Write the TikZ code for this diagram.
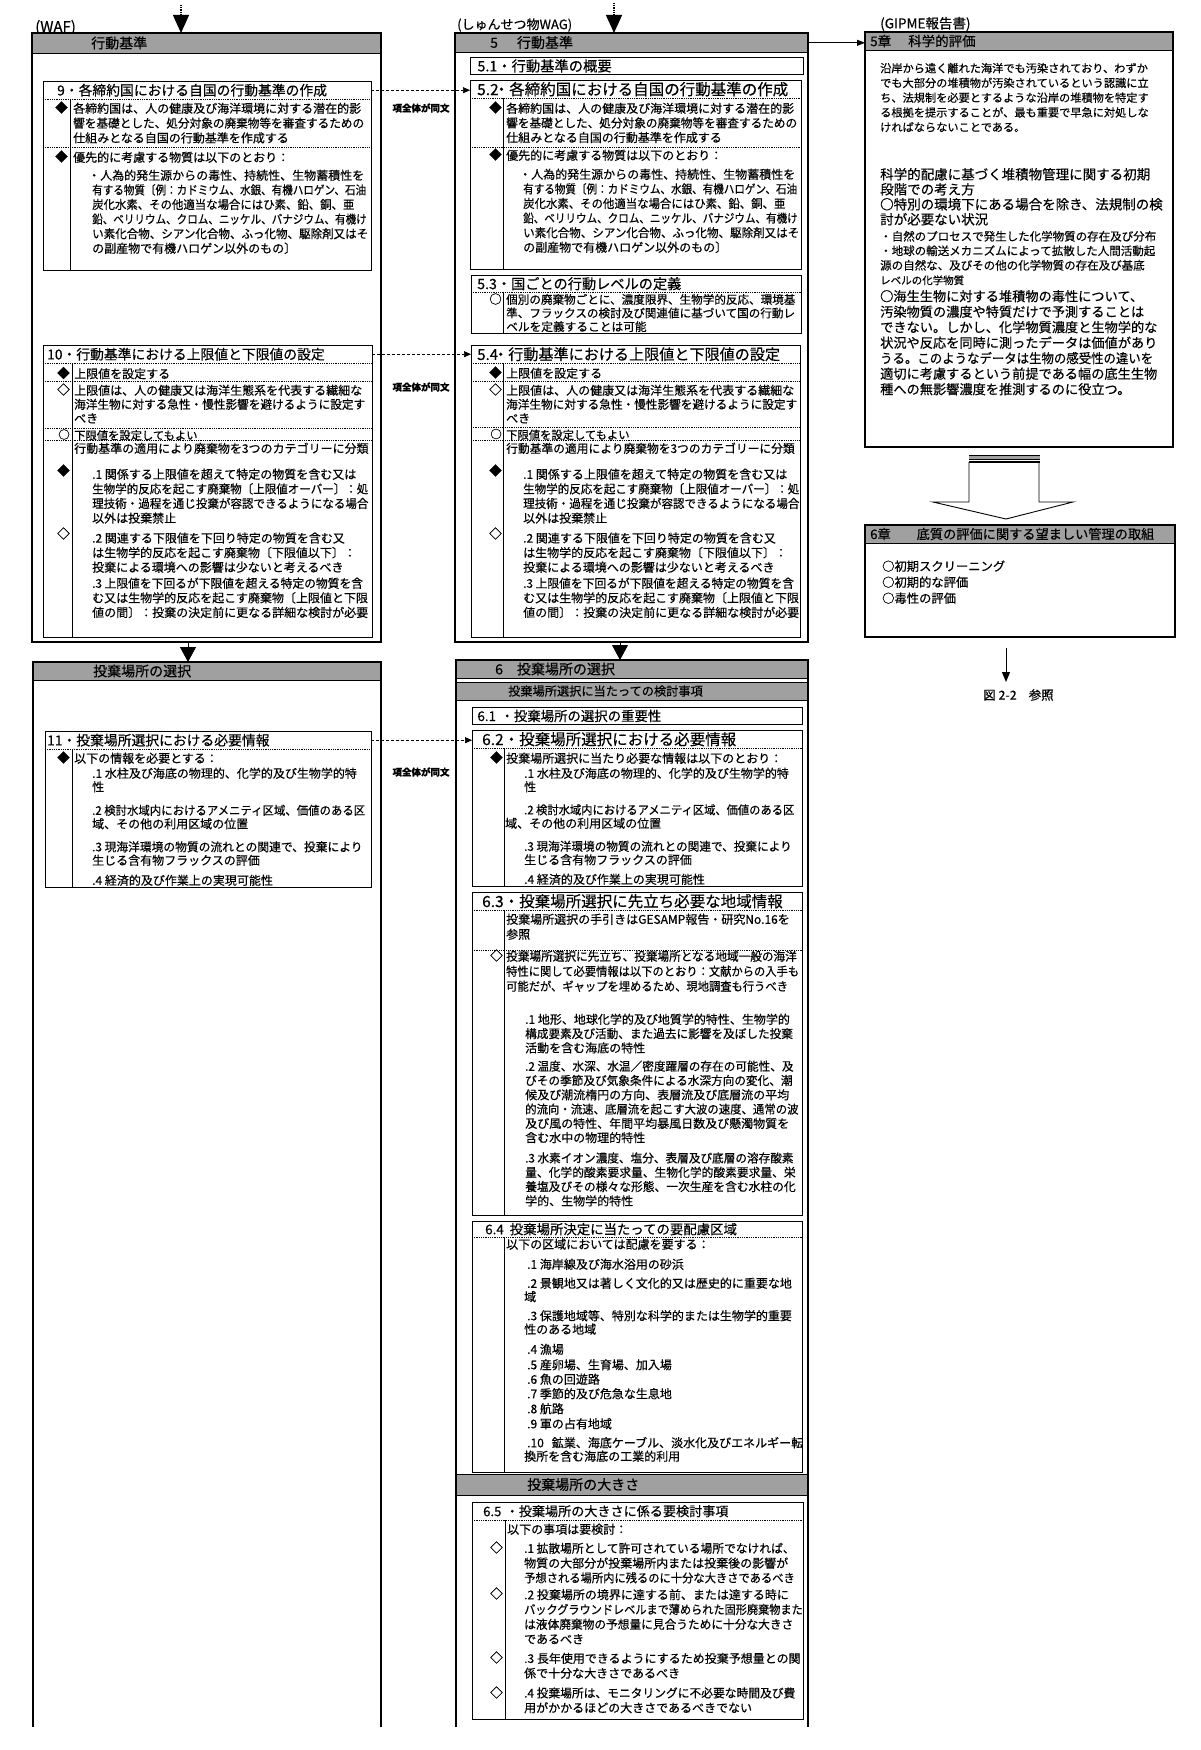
\documentclass[tikz,border=0pt]{standalone}
\usepackage{fontspec}
\usepackage{graphicx}
\setmainfont{Noto Sans CJK JP}[FakeBold=0.4]
\usetikzlibrary{arrows.meta,positioning,calc}
\definecolor{bandgray}{RGB}{160,160,160}

\newcommand\bodyat[1]{\fontsize{12}{#1}\selectfont}
\newcommand\ttlat[1]{\fontsize{#1}{16}\selectfont}
\newcommand\sizeat[2]{\fontsize{#1}{#2}\selectfont}
\newcommand\sqz[2][0.95]{\scalebox{#1}[1]{#2}}

\tikzset{
  outerbox/.style={draw, line width=1.4pt},
  secbox/.style={draw, line width=0.9pt},
  dotsep/.style={densely dotted, line width=0.8pt},
  colline/.style={line width=0.8pt},
  bandbox/.style={anchor=north west, fill=bandgray, draw, line width=0.6pt, inner sep=0pt},
  hdtext/.style={anchor=west, inner sep=0pt, font=\sizeat{14}{16}},
  lbltext/.style={anchor=west, inner sep=0pt},
  ttlrow/.style={anchor=north west, inner ysep=0pt, minimum height=18pt, align=left, font=\ttlat{13.8}},
  bodytext/.style={anchor=north west, inner sep=0pt, align=left, yshift=-1pt, font=\bodyat{14.6}},
  mkr/.style={anchor=east, inner sep=0pt, yshift=-0.5pt, font=\sizeat{12.5}{14}},
  notetext/.style={inner sep=0pt, font=\sizeat{9.5}{11}\bfseries},
  linkarrow/.style={dash pattern=on 3pt off 2pt, line width=0.7pt, -{Triangle[length=7pt,width=6pt]}},
  arr/.style={line width=0.8pt, -{Triangle[length=8pt,width=6pt]}},
  tipdown/.style={densely dotted, line width=1.2pt, -{Triangle[length=18pt,width=16pt]}},
  tri/.style={line width=0.8pt, -{Triangle[length=15pt,width=16pt]}},
}

\begin{document}
\begin{tikzpicture}[x=1pt, y=-1pt]
\fill[white] (0,0) rectangle (1200,1750);
\useasboundingbox (0,0) rectangle (1200,1750);

% ---------------- left column (WAF)
\node[lbltext, font=\sizeat{15}{17}] (wafL) at (35,27.5) {(WAF)};
\coordinate (topL) at (181,5);
\node[bandbox, minimum width=349pt, minimum height=20pt] (hL1) at (32,33) {};
\draw[outerbox] (32,33) rectangle (381,642);
\node[hdtext] (hL1t) at (91,43) {行動基準};
\draw[tipdown] (topL) -- (topL |- hL1.north);

% box 9
\draw[secbox] (43,81) rectangle (371,270);
\draw[dotsep] (43,99) -- (371,99) (43,147) -- (371,147);
\draw[colline] (70,99) -- (70,270);
\node[ttlrow, inner xsep=14pt, text width=300pt] (b9t) at (43,81) {9・各締約国における自国の行動基準の作成};
\node[mkr] (m9a) at (68,107) {◆};
\node[mkr] (m9b) at (68,156) {◆};
\node[bodytext, font=\bodyat{14.8}] (t9a) at (73,101.5) {各締約国は、人の健康及び海洋環境に対する潜在的影\\
\sqz[0.97]{響を基礎とした、処分対象の廃棄物等を審査するための}\\
仕組みとなる自国の行動基準を作成する};
\node[bodytext] (t9b) at (73,150.5) {優先的に考慮する物質は以下のとおり：\\[3.4pt]
\hspace*{15pt}・人為的発生源からの毒性、持続性、生物蓄積性を\\
\hspace*{19pt}\sqz[0.88]{有する物質〔例：カドミウム、水銀、有機ハロゲン、石油}\\
\hspace*{19pt}\sqz[0.95]{炭化水素、その他適当な場合にはひ素、鉛、銅、亜}\\
\hspace*{19pt}\sqz[0.88]{鉛、ベリリウム、クロム、ニッケル、バナジウム、有機け}\\
\hspace*{19pt}\sqz[0.96]{い素化合物、シアン化合物、ふっ化物、駆除剤又はそ}\\
\hspace*{19pt}の副産物で有機ハロゲン以外のもの〕};

% box 10
\draw[secbox] (43,345) rectangle (372,637);
\draw[dotsep] (43,363) -- (372,363) (43,381) -- (372,381) (43,428) -- (372,428) (43,440) -- (372,440);
\draw[colline] (72,363) -- (72,637);
\node[ttlrow, inner xsep=4pt, text width=321pt] (b10t) at (43,345) {10・行動基準における上限値と下限値の設定};
\node[mkr] (m10a) at (70,372.5) {◆};
\node[mkr] (m10b) at (70,389) {◇};
\node[mkr, font=\sizeat{11.5}{13}] (m10c) at (70,434) {○};
\node[mkr] (m10d) at (70,470) {◆};
\node[mkr] (m10e) at (70,533) {◇};
\node[bodytext] (t10a) at (74,367) {上限値を設定する};
\node[bodytext, font=\bodyat{14}] (t10b) at (74,383.5) {上限値は、人の健康又は海洋生態系を代表する繊細な\\
\sqz[0.97]{海洋生物に対する急性・慢性影響を避けるように設定す}\\
べき};
\node[bodytext, font=\sizeat{11.3}{14}] (t10c) at (74,428.9) {下限値を設定してもよい};
\node[bodytext] (t10d) at (74,441.5) {行動基準の適用により廃棄物を3つのカテゴリーに分類};
\node[bodytext] (t10e) at (92,467.5) {.1 関係する上限値を超えて特定の物質を含む又は\\
\sqz[0.96]{生物学的反応を起こす廃棄物〔上限値オーバー〕：処}\\
\sqz[0.96]{理技術・過程を通じ投棄が容認できるようになる場合}\\
以外は投棄禁止\\[5.4pt]
.2 関連する下限値を下回り特定の物質を含む又\\
は生物学的反応を起こす廃棄物〔下限値以下〕：\\
投棄による環境への影響は少ないと考えるべき\\[1.4pt]
\sqz[0.98]{.3 上限値を下回るが下限値を超える特定の物質を含}\\
む又は生物学的反応を起こす廃棄物〔上限値と下限\\
値の間〕：投棄の決定前に更なる詳細な検討が必要};

% left column, second part
\coordinate (aL) at (188,642);
\node[bandbox, minimum width=348pt, minimum height=18pt] (hL2) at (33,662) {};
\draw[outerbox] (33,1727) -- (33,662) -- (381,662) -- (381,1727);
\node[hdtext] (hL2t) at (93,671) {投棄場所の選択};
\draw[tri] (aL) -- (aL |- hL2.north);

% box 11
\draw[secbox] (45,731) rectangle (371,887);
\draw[dotsep] (45,749) -- (371,749);
\draw[colline] (72,749) -- (72,887);
\node[ttlrow, inner xsep=2pt, text width=322pt] (b11t) at (45,731) {11・投棄場所選択における必要情報};
\node[mkr] (m11a) at (70,757) {◆};
\node[bodytext] (t11a) at (74,751.5) {以下の情報を必要とする：};
\node[bodytext, font=\bodyat{13.5}] (t11b) at (92,766.5) {.1 水柱及び海底の物理的、化学的及び生物学的特\\
性\\[10pt]
\sqz{.2 検討水域内におけるアメニティ区域、価値のある区}\\
域、その他の利用区域の位置\\[9.5pt]
\sqz[0.98]{.3 現海洋環境の物質の流れとの関連で、投棄により}\\
生じる含有物フラックスの評価\\[6.5pt]
.4 経済的及び作業上の実現可能性};

% ---------------- middle column (dredged material WAG)
\node[lbltext, font=\sizeat{13}{15}] (wagM) at (457,25) {(しゅんせつ物WAG)};
\coordinate (topM) at (614,3);
\node[bandbox, minimum width=353pt, minimum height=19pt] (hM1) at (455,33) {};
\draw[outerbox] (455,33) rectangle (808,642);
\node[hdtext] (hM1t) at (490,42.5) {5\hspace{19pt}行動基準};
\draw[tipdown] (topM) -- (topM |- hM1.north);

% 5.1
\node[ttlrow, draw, line width=0.9pt, minimum height=17pt, inner xsep=7pt, text width=319pt, font=\ttlat{14.3}] (b51t) at (470,57) {5.1・行動基準の概要};

% 5.2
\draw[secbox] (470,80) rectangle (801,269);
\draw[dotsep] (470,98) -- (801,98) (470,147) -- (801,147);
\draw[colline] (503,98) -- (503,269);
\node[ttlrow, inner xsep=7pt, text width=317pt, font=\ttlat{15.5}] (b52t) at (470,80) {5.2\hspace{-5pt}・各締約国における自国の行動基準の作成};
\node[mkr] (m52a) at (502,107) {◆};
\node[mkr] (m52b) at (502,154) {◆};
\node[bodytext, font=\bodyat{14.6}] (t52a) at (506,101.5) {各締約国は、人の健康及び海洋環境に対する潜在的影\\
\sqz[0.97]{響を基礎とした、処分対象の廃棄物等を審査するための}\\
仕組みとなる自国の行動基準を作成する};
\node[bodytext] (t52b) at (506,148.5) {優先的に考慮する物質は以下のとおり：\\[4.4pt]
\hspace*{13pt}・人為的発生源からの毒性、持続性、生物蓄積性を\\
\hspace*{17pt}\sqz[0.88]{有する物質〔例：カドミウム、水銀、有機ハロゲン、石油}\\
\hspace*{17pt}\sqz[0.95]{炭化水素、その他適当な場合にはひ素、鉛、銅、亜}\\
\hspace*{17pt}\sqz[0.88]{鉛、ベリリウム、クロム、ニッケル、バナジウム、有機け}\\
\hspace*{17pt}\sqz[0.96]{い素化合物、シアン化合物、ふっ化物、駆除剤又はそ}\\
\hspace*{17pt}の副産物で有機ハロゲン以外のもの〕};

% 5.3
\draw[secbox] (471,275) rectangle (801,333);
\draw[dotsep] (471,292) -- (801,292);
\draw[colline] (503,292) -- (503,333);
\node[ttlrow, minimum height=17pt, inner xsep=6pt, text width=318pt, font=\ttlat{14.2}] (b53t) at (471,275) {5.3・国ごとの行動レベルの定義};
\node[mkr] (m53a) at (502,298.5) {○};
\node[bodytext, font=\sizeat{11.7}{13.6}] (t53) at (506,292.8) {\sqz[0.99]{個別の廃棄物ごとに、濃度限界、生物学的反応、環境基}\\
\sqz[0.99]{準、フラックスの検討及び関連値に基づいて国の行動レ}\\
ベルを定義することは可能};

% 5.4
\draw[secbox] (471,345) rectangle (800,637);
\draw[dotsep] (471,363) -- (800,363) (471,381) -- (800,381) (471,427) -- (800,427) (471,440) -- (800,440);
\draw[colline] (503,363) -- (503,637);
\node[ttlrow, inner xsep=6pt, text width=317pt, font=\ttlat{15.1}] (b54t) at (471,345) {5.4\hspace{-5pt}・行動基準における上限値と下限値の設定};
\node[mkr] (m54a) at (502,372) {◆};
\node[mkr] (m54b) at (502,389) {◇};
\node[mkr, font=\sizeat{11.5}{13}] (m54c) at (502,433.5) {○};
\node[mkr] (m54d) at (502,470) {◆};
\node[mkr] (m54e) at (502,533) {◇};
\node[bodytext] (t54a) at (506,366.5) {上限値を設定する};
\node[bodytext, font=\bodyat{14}] (t54b) at (506,383.5) {上限値は、人の健康又は海洋生態系を代表する繊細な\\
\sqz[0.97]{海洋生物に対する急性・慢性影響を避けるように設定す}\\
べき};
\node[bodytext, font=\sizeat{11.3}{14}] (t54c) at (506,428.4) {下限値を設定してもよい};
\node[bodytext] (t54d) at (506,441.5) {\sqz[0.98]{行動基準の適用により廃棄物を3つのカテゴリーに分類}};
\node[bodytext] (t54e) at (523,467.5) {.1 関係する上限値を超えて特定の物質を含む又は\\
\sqz[0.96]{生物学的反応を起こす廃棄物〔上限値オーバー〕：処}\\
\sqz[0.96]{理技術・過程を通じ投棄が容認できるようになる場合}\\
以外は投棄禁止\\[5.4pt]
.2 関連する下限値を下回り特定の物質を含む又\\
は生物学的反応を起こす廃棄物〔下限値以下〕：\\
投棄による環境への影響は少ないと考えるべき\\[1.4pt]
\sqz[0.98]{.3 上限値を下回るが下限値を超える特定の物質を含}\\
む又は生物学的反応を起こす廃棄物〔上限値と下限\\
値の間〕：投棄の決定前に更なる詳細な検討が必要};

% links between the two guidelines
\draw[linkarrow] (b9t.east) -- (b9t.east -| b52t.west);
\draw[linkarrow] (b10t.east) -- (b10t.east -| b54t.west);
\node[notetext] (same1) at (421,108) {項全体が同文};
\node[notetext] (same2) at (421,387) {項全体が同文};

% middle column, second part
\coordinate (aM) at (620,642);
\node[bandbox, minimum width=352pt, minimum height=18pt] (hM2) at (456,660) {};
\node[bandbox, minimum width=352pt, minimum height=18pt] (hM2s) at (456,682) {};
\node[bandbox, minimum width=352pt, minimum height=21pt] (hM3) at (456,1474) {};
\draw[outerbox] (456,1727) -- (456,660) -- (808,660) -- (808,1727);
\node[hdtext] (hM2t) at (495,669) {6\hspace{14pt}投棄場所の選択};
\node[hdtext, font=\sizeat{12.2}{14}] (hM2st) at (508,691) {投棄場所選択に当たっての検討事項};
\node[hdtext] (hM3t) at (527,1484.5) {投棄場所の大きさ};
\draw[tri] (aM) -- (aM |- hM2.north);

% 6.1
\node[ttlrow, draw, line width=0.9pt, minimum height=17pt, inner xsep=5pt, text width=320pt, font=\ttlat{13.4}] (b61t) at (472,707) {6.1 ・投棄場所の選択の重要性};

% 6.2
\draw[secbox] (472,730) rectangle (802,886);
\draw[dotsep] (472,748) -- (802,748);
\draw[colline] (504,748) -- (504,886);
\node[ttlrow, inner xsep=10pt, text width=310pt, font=\ttlat{15.5}] (b62t) at (472,730) {6.2・投棄場所選択における必要情報};
\node[mkr] (m62a) at (503,757) {◆};
\node[bodytext] (t62a) at (506,751.5) {投棄場所選択に当たり必要な情報は以下のとおり：};
\node[bodytext, font=\bodyat{13.5}] (t62b) at (505,766.5) {\hspace*{19pt}.1 水柱及び海底の物理的、化学的及び生物学的特\\
\hspace*{19pt}性\\[9.5pt]
\hspace*{19pt}\sqz[0.94]{.2 検討水域内におけるアメニティ区域、価値のある区}\\
域、その他の利用区域の位置\\[9.5pt]
\hspace*{19pt}\sqz[0.97]{.3 現海洋環境の物質の流れとの関連で、投棄により}\\
\hspace*{19pt}生じる含有物フラックスの評価\\[6pt]
\hspace*{19pt}.4 経済的及び作業上の実現可能性};
\draw[linkarrow] (b11t.east) -- (b11t.east -| b62t.west);
\node[notetext] (same3) at (421,772) {項全体が同文};

% 6.3
\draw[secbox] (472,892) rectangle (802,1215);
\draw[dotsep] (472,910) -- (802,910) (472,950) -- (802,950);
\draw[colline] (504,910) -- (504,1215);
\node[ttlrow, inner xsep=10pt, text width=310pt, font=\ttlat{15.5}] (b63t) at (472,892) {6.3・投棄場所選択に先立ち必要な地域情報};
\node[bodytext, font=\bodyat{15}] (t63a) at (506,912.5) {投棄場所選択の手引きはGESAMP報告・研究No.16を\\
参照};
\node[mkr] (m63a) at (503,955) {◇};
\node[bodytext, font=\bodyat{15}] (t63b) at (506,949.5) {\sqz[0.97]{投棄場所選択に先立ち、投棄場所となる地域一般の海洋}\\
\sqz[0.94]{特性に関して必要情報は以下のとおり：文献からの入手も}\\
\sqz[0.94]{可能だが、ギャップを埋めるため、現地調査も行うべき}};
\node[bodytext, font=\bodyat{14.3}] (t63c) at (525,1012.5) {.1 地形、地球化学的及び地質学的特性、生物学的\\
\sqz[0.97]{構成要素及び活動、また過去に影響を及ぼした投棄}\\
活動を含む海底の特性\\[4pt]
\sqz[0.97]{.2 温度、水深、水温／密度躍層の存在の可能性、及}\\
\sqz[0.97]{びその季節及び気象条件による水深方向の変化、潮}\\
候及び潮流楕円の方向、表層流及び底層流の平均\\
\sqz[0.95]{的流向・流速、底層流を起こす大波の速度、通常の波}\\
及び風の特性、年間平均暴風日数及び懸濁物質を\\
含む水中の物理的特性\\[6pt]
\sqz[0.97]{.3 水素イオン濃度、塩分、表層及び底層の溶存酸素}\\
\sqz[0.98]{量、化学的酸素要求量、生物化学的酸素要求量、栄}\\
\sqz[0.98]{養塩及びその様々な形態、一次生産を含む水柱の化}\\
学的、生物学的特性};

% 6.4
\draw[secbox] (472,1221) rectangle (802,1472);
\draw[dotsep] (472,1237) -- (802,1237);
\draw[colline] (504,1237) -- (504,1472);
\node[ttlrow, minimum height=16pt, inner xsep=13pt, text width=304pt, font=\ttlat{13.4}] (b64t) at (472,1221) {6.4\hspace{6pt}投棄場所決定に当たっての要配慮区域};
\node[bodytext] (t64a) at (506,1237.5) {以下の区域においては配慮を要する：};
\node[bodytext, font=\bodyat{13.5}] (t64b) at (527,1257.5) {.1 海岸線及び海水浴用の砂浜\\[5.5pt]
.2 景観地又は著しく文化的又は歴史的に重要な地\\
\hspace*{-3pt}域\\[5.5pt]
.3 保護地域等、特別な科学的または生物学的重要\\
\hspace*{-3pt}性のある地域\\[6.5pt]
.4 漁場\\[2pt]
.5 産卵場、生育場、加入場\\[1pt]
.6 魚の回遊路\\[1pt]
.7 季節的及び危急な生息地\\[1.5pt]
.8 航路\\[1.5pt]
.9 軍の占有地域\\[5.5pt]
.10\hspace{8pt}鉱業、海底ケーブル、淡水化及びエネルギー転\\
\hspace*{-3pt}換所を含む海底の工業的利用};

% 6.5
\draw[secbox] (472,1502) rectangle (803,1719);
\draw[dotsep] (472,1520) -- (803,1520);
\draw[colline] (505,1520) -- (505,1719);
\node[ttlrow, inner xsep=11pt, text width=309pt, font=\ttlat{13.1}] (b65t) at (472,1502) {6.5 ・投棄場所の大きさに係る要検討事項};
\node[bodytext] (t65a) at (507,1522.5) {以下の事項は要検討：};
\node[mkr] (m65a) at (503,1547) {◇};
\node[mkr] (m65b) at (503,1593) {◇};
\node[mkr] (m65c) at (503,1657) {◇};
\node[mkr] (m65d) at (503,1692) {◇};
\node[bodytext, font=\bodyat{14.8}] (t65b) at (524,1541.5) {\sqz[0.98]{.1 拡散場所として許可されている場所でなければ、}\\
物質の大部分が投棄場所内または投棄後の影響が\\
\sqz[0.94]{予想される場所内に残るのに十分な大きさであるべき}\\[2pt]
.2 投棄場所の境界に達する前、または達する時に\\
\sqz[0.93]{バックグラウンドレベルまで薄められた固形廃棄物また}\\
\sqz[0.975]{は液体廃棄物の予想量に見合うために十分な大きさ}\\
であるべき\\[4.5pt]
.3 長年使用できるようにするため投棄予想量との関\\
係で十分な大きさであるべき\\[5pt]
\sqz[0.98]{.4 投棄場所は、モニタリングに不必要な時間及び費}\\
用がかかるほどの大きさであるべきでない};

% ---------------- right column (GIPME report)
\node[lbltext, font=\sizeat{13.5}{15}] (gipR) at (880,24) {(GIPME報告書)};
\node[bandbox, minimum width=308pt, minimum height=18pt] (hR1) at (865,32) {};
\draw[outerbox] (865,32) rectangle (1173,447);
\node[hdtext, font=\sizeat{13.5}{16}] (hR1t) at (870,41) {5章\hspace{17pt}科学的評価};
\draw[arr] (hM1.east) -- (hM1.east -| hR1.west);

\node[bodytext, font=\sizeat{11.2}{14.75}] (r5a) at (880,61.8) {沿岸から遠く離れた海洋でも汚染されており、わずか\\
でも大部分の堆積物が汚染されているという認識に立\\
ち、法規制を必要とするような沿岸の堆積物を特定す\\
る根拠を提示することが、最も重要で早急に対処しな\\
ければならないことである。};
\node[bodytext, font=\sizeat{13.5}{15}] (r5b) at (880,166.8) {科学的配慮に基づく堆積物管理に関する初期\\
段階での考え方\\
○特別の環境下にある場合を除き、法規制の検\\
討が必要ない状況};
\node[bodytext, font=\sizeat{11.5}{14.5}] (r5c) at (880,229.7) {・自然のプロセスで発生した化学物質の存在及び分布\\
・地球の輸送メカニズムによって拡散した人間活動起\\
源の自然な、及びその他の化学物質の存在及び基底};
\node[bodytext, font=\sizeat{10.5}{12}] (r5d) at (880,274.2) {レベルの化学物質};
\node[bodytext, font=\sizeat{13.2}{15.5}] (r5e) at (880,288.9) {○海生生物に対する堆積物の毒性について、\\
汚染物質の濃度や特質だけで予測することは\\
できない。しかし、化学物質濃度と生物学的な\\
状況や反応を同時に測ったデータは価値があり\\
\sqz[0.94]{うる。このようなデータは生物の感受性の違いを}\\
適切に考慮するという前提である幅の底生生物\\
種への無影響濃度を推測するのに役立つ。};

% block arrow down to chapter 6
\fill[bandgray] (969,455) rectangle (1040,459);
\draw[line width=0.6pt] (969,455) -- (1040,455) (969,459) -- (1040,459);
\draw[line width=1.8pt] (969,462) -- (1040,462);
\draw[line width=0.9pt] (969,462) -- (969,502) -- (933,502) -- (1006,519) -- (1073,502) -- (1039,502) -- (1039,462);

% chapter 6 box
\node[bandbox, minimum width=310pt, minimum height=18pt] (hR2) at (865,525) {};
\draw[outerbox] (865,525) rectangle (1175,637);
\node[hdtext, font=\sizeat{13.2}{16}] (hR2t) at (870,534) {6章\hspace{26pt}底質の評価に関する望ましい管理の取組};
\node[bodytext, font=\sizeat{12.3}{16}] (r6) at (882,559.3) {○初期スクリーニング\\
○初期的な評価\\
○毒性の評価};
\coordinate (aR) at (1006,648);
\coordinate (aRend) at (1006,682);
\draw[line width=1pt, -{Triangle[length=10pt,width=8pt]}] (aR) -- (aRend);
\node[lbltext, font=\sizeat{12.5}{14}] (figref) at (983,695) {図 2-2\hspace{12pt}参照};
\end{tikzpicture}
\end{document}
